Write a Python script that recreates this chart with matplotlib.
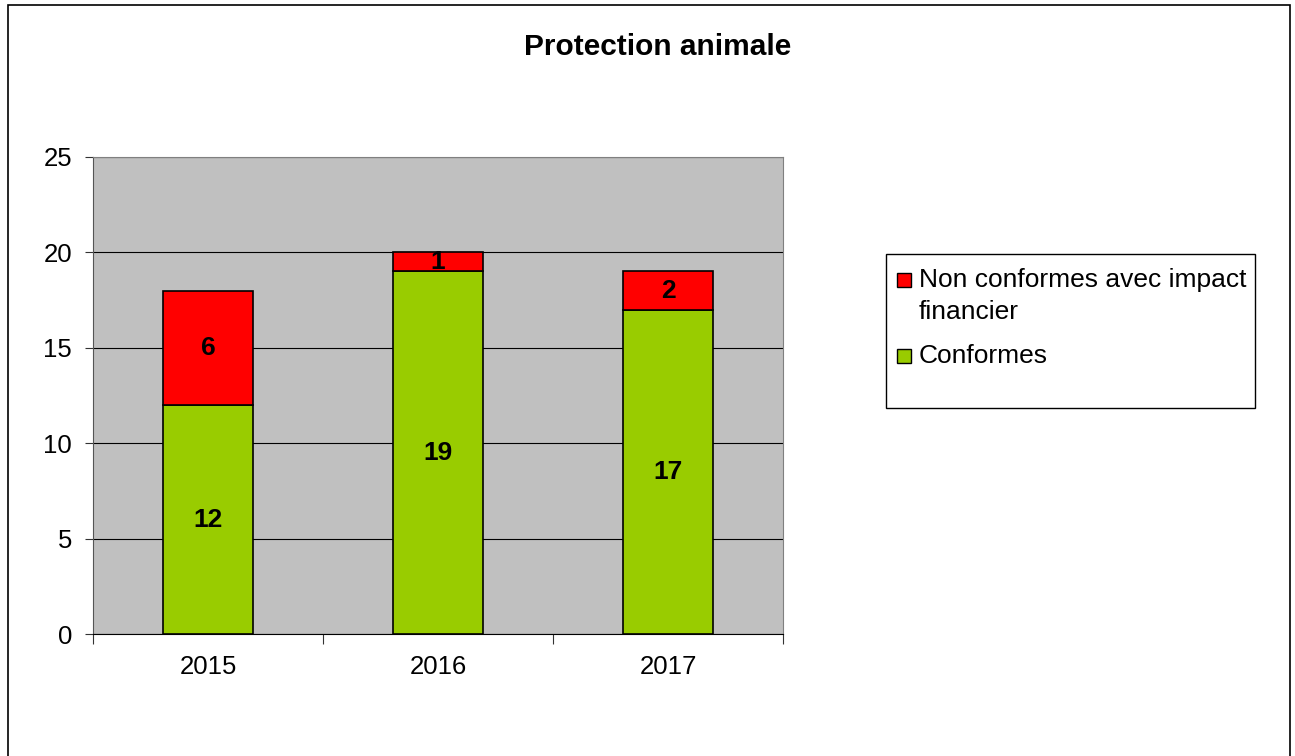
import matplotlib
matplotlib.use("Agg")
from matplotlib import pyplot as plt
from matplotlib.patches import Rectangle

plt.rcParams['font.family'] = ['Liberation Sans', 'DejaVu Sans']

years = ['2015', '2016', '2017']
conformes = [12, 19, 17]
non_conformes = [6, 1, 2]
yticks = [0, 5, 10, 15, 20, 25]
legend_labels = ['Non conformes avec impact\nfinancier', 'Conformes']

green = '#99CC00'
red = '#FF0000'

W, H = 1295, 756
fig = plt.figure(figsize=(W / 100, H / 100), dpi=100)

# outer frame of the chart area
fig.patches.append(Rectangle((8 / W, -0.01), 1282 / W, 1 - 5 / H + 0.01,
                             transform=fig.transFigure, fill=False,
                             edgecolor='black', linewidth=1.2))

ax = fig.add_axes([93 / W, 1 - 634 / H, 690 / W, 477 / H])
ax.set_facecolor('#C0C0C0')

x = list(range(len(years)))
ax.bar(x, conformes, width=0.39, color=green, edgecolor='black', linewidth=1.2,
       zorder=3)
ax.bar(x, non_conformes, width=0.39, bottom=conformes, color=red, edgecolor='black',
       linewidth=1.2, zorder=3)

for i in x:
    ax.text(i, conformes[i] / 2, str(conformes[i]), ha='center', va='center',
            fontsize=19, fontweight='bold', zorder=4)
    ax.text(i, conformes[i] + non_conformes[i] / 2, str(non_conformes[i]),
            ha='center', va='center', fontsize=19, fontweight='bold', zorder=4)

ax.set_xlim(-0.5, 2.5)
ax.set_ylim(0, 25)
ax.set_yticks(yticks)
ax.set_yticklabels([str(v) for v in yticks], fontsize=18.5)
ax.yaxis.grid(True, color='black', linewidth=0.8, zorder=1)
ax.set_axisbelow(True)

ax.set_xticks([-0.5, 0.5, 1.5, 2.5])
ax.set_xticklabels([])
ax.set_xticks(x, minor=True)
ax.set_xticklabels(years, minor=True, fontsize=18.5)
ax.tick_params(axis='x', which='minor', length=0, pad=15)
ax.tick_params(axis='x', which='major', length=7, direction='out', color='#333333')
ax.tick_params(axis='y', length=6, direction='out', color='#333333', pad=9)

for side in ['top', 'right']:
    ax.spines[side].set_color('#808080')
ax.spines['left'].set_color('#555555')
ax.spines['bottom'].set_color('black')

fig.text(658 / W, 1 - 47 / H, 'Protection animale', ha='center', va='center',
         fontsize=21.5, fontweight='bold')

# legend, laid out by hand like the spreadsheet one (markers on first line, room below)
fig.patches.append(Rectangle((886 / W, 1 - 408 / H), 369 / W, 154 / H,
                             transform=fig.transFigure, facecolor='white',
                             edgecolor='black', linewidth=1.0))
legend_colors = [red, green]
legend_baselines = [287, 363]
for label, col, base in zip(legend_labels, legend_colors, legend_baselines):
    fig.patches.append(Rectangle((897 / W, 1 - base / H), 14 / W, 14 / H,
                                 transform=fig.transFigure, facecolor=col,
                                 edgecolor='black', linewidth=1.0))
    for k, line in enumerate(label.split('\n')):
        fig.text(919 / W, 1 - (base + 32 * k) / H, line, ha='left',
                 va='baseline', fontsize=19)

fig.savefig('out.png', dpi=100)
